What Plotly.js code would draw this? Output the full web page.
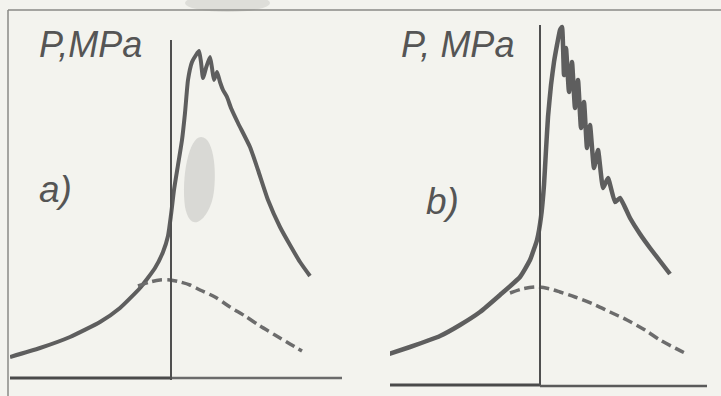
<!DOCTYPE html>
<html>
<head>
<meta charset="utf-8">
<script src="https://cdn.plot.ly/plotly-3.0.1.min.js"></script>
<style>html,body{margin:0;padding:0;background:#f3f3ee;}#chart{width:721px;height:396px;}</style>
</head>
<body>
<div id="chart"></div>
<script>
// Panel a) — crank angle (deg, TDC = 0) and pressure (MPa)
const angleA = [-80.5,-65.5,-50.5,-35.5,-25.5,-15.5,-8,-4,-1.5,0,1.5,3.5,5.5,7,8.5,10.5,12.5,14,15,16,17.5,19.5,20.5,21.5,23,24.5,26,28,30,33.5,39.5,43.5,48.5,54.5,59.5,64.5,69.5];
const firedA = [2.0,2.9,4.0,5.5,6.9,8.9,10.9,12.5,14.1,16.2,18.7,21.2,23.7,26.4,29.7,31.5,32.2,32.6,31.5,29.9,30.9,32.0,30.9,29.7,30.5,29.5,28.7,28.0,26.9,25.4,23.0,20.7,17.7,15.0,13.2,11.5,10.1];
const motorAngleA = [-16.5,-10.5,-5.5,-0.5,4.5,9.5,14.5,22,29.5,37,44.5,52,59.5,65.5];
const motoredA = [9.1,9.5,9.7,9.7,9.5,9.2,8.7,8.0,7.0,6.1,5.1,4.2,3.3,2.6];

// Panel b)
const angleB = [-81.5,-65,-50,-40,-30,-20,-10,-5,-1.5,0.5,2,3,4,5.5,7,8.5,10,11,12,13,14.5,16,17.5,19,20.5,22,23.5,25,27,29,31.5,34,37.5,40,45,50,55,60,65];
const firedB = [2.4,3.5,4.6,5.7,7.0,8.7,10.5,12.2,14.2,16.5,19.7,23.2,26.5,29.7,32.0,33.7,35.2,35.5,30.7,33.4,29.0,32.0,27.4,30.2,25.4,28.0,23.4,25.7,21.4,23.2,19.4,20.4,18.0,18.4,16.4,14.8,13.4,12.1,10.8];
const motorAngleB = [-15,-9,-1.5,5,10,17.5,26.5,35,43.5,52.5,60,67.5,73.5];
const motoredB = [8.9,9.3,9.5,9.3,9.0,8.5,7.8,7.0,6.2,5.2,4.2,3.4,2.8];

const labels = {yA: 'P,MPa', yB: 'P, MPa', panelA: 'a)', panelB: 'b)'};

const solidA = {color:'#5e5e5e', width:4, shape:'spline', smoothing:0.5};
const solidB = {color:'#5e5e5e', width:4.5, shape:'spline', smoothing:0.4};
const dashed = {color:'#6c6c6c', width:3.5, dash:'10px,5px', shape:'spline', smoothing:0.8};

const traces = [
  {x:angleA, y:firedA, xaxis:'x', yaxis:'y', mode:'lines', line:solidA, hoverinfo:'skip'},
  {x:motorAngleA, y:motoredA, xaxis:'x', yaxis:'y', mode:'lines', line:dashed, hoverinfo:'skip'},
  {x:angleB, y:firedB, xaxis:'x2', yaxis:'y2', mode:'lines', line:solidB, hoverinfo:'skip'},
  {x:motorAngleB, y:motoredB, xaxis:'x2', yaxis:'y2', mode:'lines', line:dashed, hoverinfo:'skip'}
];

const ax = {visible:false, fixedrange:true};
const W = 721, H = 396;
const layout = {
  width:W, height:H,
  margin:{l:0,r:0,t:0,b:0},
  paper_bgcolor:'#f3f3ee', plot_bgcolor:'rgba(0,0,0,0)',
  showlegend:false,
  xaxis:Object.assign({domain:[10/W, 342/W], range:[-80.5, 85.5]}, ax),
  yaxis:Object.assign({domain:[0,1], range:[-1.9, 37.7]}, ax),
  xaxis2:Object.assign({domain:[390/W, 1], range:[-75, 90.5], anchor:'y2'}, ax),
  yaxis2:Object.assign({domain:[0,1], range:[-1.4, 38.2], anchor:'x2'}, ax),
  shapes:[
    // scan smudges
    {type:'path', xref:'x', yref:'y', path:'M 7,17 C 5,20 9,24 15,24 C 22,24 23,20 21,18 C 19,16 10,14 7,17 Z', fillcolor:'#d6d6d1', line:{width:0}, opacity:0.9, layer:'below'},
    {type:'circle', xref:'paper', yref:'paper', x0:185/W, x1:270/W, y0:(H-12)/H, y1:(H+6)/H, fillcolor:'#d8d8d3', line:{width:0}, opacity:0.8, layer:'below'},
    // frame
    {type:'line', xref:'paper', yref:'paper', x0:8/W, x1:1, y0:(H-10)/H, y1:(H-10)/H, line:{color:'#8a8a86', width:1.5}},
    {type:'line', xref:'paper', yref:'paper', x0:8/W, x1:8/W, y0:0, y1:(H-10)/H, line:{color:'#8a8a86', width:1.5}},
    // panel a axes
    {type:'line', xref:'x', yref:'y', x0:-80.5, x1:0, y0:-0.1, y1:-0.1, line:{color:'#4a4a4a', width:3}},
    {type:'line', xref:'x', yref:'y', x0:0, x1:85.5, y0:-0.1, y1:-0.1, line:{color:'#6a6a6a', width:2.5}},
    {type:'line', xref:'x', yref:'y', x0:0, x1:0, y0:-0.3, y1:33.7, line:{color:'#4f4f4f', width:2}},
    // panel b axes
    {type:'line', xref:'x2', yref:'y2', x0:-75, x1:0, y0:-0.3, y1:-0.3, line:{color:'#4a4a4a', width:3}},
    {type:'line', xref:'x2', yref:'y2', x0:0, x1:83.5, y0:-0.4, y1:-0.4, line:{color:'#5a5a5a', width:2.5}},
    {type:'line', xref:'x2', yref:'y2', x0:0, x1:0, y0:-0.3, y1:35.7, line:{color:'#4f4f4f', width:2}}
  ],
  annotations:[
    {xref:'paper', yref:'paper', x:37/W, y:(H-44)/H, xanchor:'left', yanchor:'middle', text:labels.yA, showarrow:false,
     font:{family:'Liberation Sans, Arial, sans-serif', size:36, color:'#555', style:'italic'}},
    {xref:'paper', yref:'paper', x:399/W, y:(H-44)/H, xanchor:'left', yanchor:'middle', text:labels.yB, showarrow:false,
     font:{family:'Liberation Sans, Arial, sans-serif', size:36, color:'#555', style:'italic'}},
    {xref:'paper', yref:'paper', x:37/W, y:(H-189)/H, xanchor:'left', yanchor:'middle', text:labels.panelA, showarrow:false,
     font:{family:'Liberation Sans, Arial, sans-serif', size:37, color:'#555', style:'italic'}},
    {xref:'paper', yref:'paper', x:424/W, y:(H-201)/H, xanchor:'left', yanchor:'middle', text:labels.panelB, showarrow:false,
     font:{family:'Liberation Sans, Arial, sans-serif', size:37, color:'#555', style:'italic'}}
  ]
};

Plotly.newPlot('chart', traces, layout, {staticPlot:true, displayModeBar:false});
</script>
</body>
</html>
